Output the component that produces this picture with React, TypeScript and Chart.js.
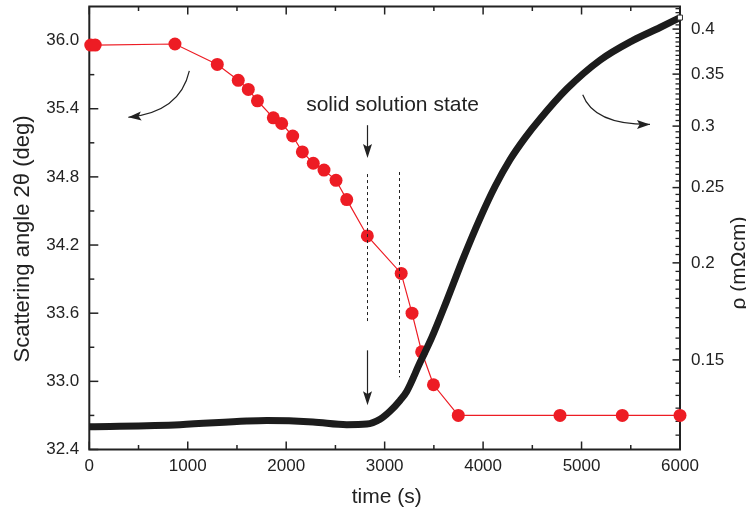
import { useEffect, useRef } from "react";
import { Chart, registerables } from "chart.js";

Chart.register(...registerables);

// ---------- data ----------
// Scattering angle 2θ (deg) vs time (s)  — red series, left axis
const angleTime = [15, 60, 870, 1300, 1513, 1615, 1708, 1869, 1954, 2066, 2164, 2275, 2384, 2506, 2615, 2824, 3168, 3278, 3376, 3496, 3748, 4781, 5414, 6000];
const angleValue = [35.96, 35.96, 35.97, 35.79, 35.65, 35.57, 35.47, 35.32, 35.27, 35.16, 35.02, 34.92, 34.86, 34.77, 34.6, 34.28, 33.95, 33.6, 33.26, 32.97, 32.7, 32.7, 32.7, 32.7];

// Resistivity ρ (mΩcm) vs time (s) — black series, right (log) axis
const rhoTime = [0, 921, 1599, 1802, 2272, 2615, 2818, 2953, 3054, 3156, 3224, 3359, 3478, 3630, 3799, 3969, 4121, 4273, 4426, 4578, 4849, 5187, 5523, 5797, 6000];
const rhoValue = [0.123, 0.1238, 0.1251, 0.1253, 0.1248, 0.1238, 0.124, 0.1258, 0.1288, 0.133, 0.1366, 0.1488, 0.1602, 0.1787, 0.2028, 0.2282, 0.2508, 0.2715, 0.2897, 0.3064, 0.3348, 0.3647, 0.3868, 0.4019, 0.4139];

// tick values
const timeTicks = [0, 1000, 2000, 3000, 4000, 5000, 6000];
const timeMinorTicks = [500, 1500, 2500, 3500, 4500, 5500];
const angleTicks = [32.4, 33.0, 33.6, 34.2, 34.8, 35.4, 36.0];
const angleMinorTicks = [32.7, 33.3, 33.9, 34.5, 35.1, 35.7];
const rhoTicks = [0.15, 0.2, 0.25, 0.3, 0.35, 0.4];
const rhoMinorTicks = [0.12, 0.125, 0.13, 0.135, 0.14, 0.145, 0.155, 0.16, 0.165, 0.17, 0.175, 0.18, 0.185, 0.19, 0.195, 0.205, 0.21, 0.215, 0.22, 0.225, 0.23, 0.235, 0.24, 0.245, 0.255, 0.26, 0.265, 0.27, 0.275, 0.28, 0.285, 0.29, 0.295, 0.305, 0.31, 0.315, 0.32, 0.325, 0.33, 0.335, 0.34, 0.345, 0.355, 0.36, 0.365, 0.37, 0.375, 0.38, 0.385, 0.39, 0.395, 0.405, 0.41, 0.415, 0.42, 0.425];

// axis ranges
const timeRange = [0, 6000];
const angleRange = [32.4, 36.3];
const rhoRange = [0.115, 0.4277];

// annotation anchors, in data units (time, angle)
const labelText = "solid solution state";
const labelAnchor = [3080, 35.43];
const straightArrows = [
  [2824, 35.255, 2824, 34.966],
  [2824, 33.273, 2824, 32.79],
];
const dashedLines = [
  [2824, 34.825, 2824, 33.518],
  [3146, 34.843, 3146, 33.036],
];
// curved arrows: start, control, end (tip)
const curvedArrows = [
  [1016, 35.734, 921, 35.37, 396, 35.325],
  [5012, 35.523, 5126, 35.258, 5695, 35.262],
];

const INK = "#222222";
const RED = "#ed1c24";
const FONT = "'Liberation Sans', Arial, Helvetica, sans-serif";

function arrowHead(ctx: CanvasRenderingContext2D, tx: number, ty: number, fx: number, fy: number, len: number, half: number) {
  const ang = Math.atan2(ty - fy, tx - fx);
  ctx.save();
  ctx.translate(tx, ty);
  ctx.rotate(ang);
  ctx.beginPath();
  ctx.moveTo(0, 0);
  ctx.lineTo(-len, -half);
  ctx.lineTo(-len * 0.8, 0);
  ctx.lineTo(-len, half);
  ctx.closePath();
  ctx.fill();
  ctx.restore();
}

const decorPlugin = {
  id: "decor",
  beforeDatasetsDraw(chart: any) {
    const { ctx, chartArea: a, scales } = chart;
    const sx = scales.x, sy = scales.y, sr = scales.y1;
    ctx.save();
    ctx.strokeStyle = INK;
    ctx.lineWidth = 1.5;
    const seg = (x0: number, y0: number, x1: number, y1: number) => {
      ctx.beginPath();
      ctx.moveTo(x0, y0);
      ctx.lineTo(x1, y1);
      ctx.stroke();
    };
    for (const v of timeTicks) {
      const p = sx.getPixelForValue(v);
      seg(p, a.bottom, p, a.bottom - 8);
      seg(p, a.top, p, a.top + 8);
    }
    for (const v of timeMinorTicks) {
      const p = sx.getPixelForValue(v);
      seg(p, a.bottom, p, a.bottom - 4.5);
      seg(p, a.top, p, a.top + 4.5);
    }
    for (const v of angleTicks) {
      const p = sy.getPixelForValue(v);
      seg(a.left, p, a.left + 9, p);
    }
    for (const v of angleMinorTicks) {
      const p = sy.getPixelForValue(v);
      seg(a.left, p, a.left + 5, p);
    }
    for (const v of rhoTicks) {
      const p = sr.getPixelForValue(v);
      seg(a.right, p, a.right - 7.5, p);
    }
    ctx.lineWidth = 1.3;
    for (const v of rhoMinorTicks) {
      const p = sr.getPixelForValue(v);
      seg(a.right, p, a.right - 4.5, p);
    }
    ctx.lineWidth = 2;
    ctx.strokeRect(a.left, a.top, a.right - a.left, a.bottom - a.top);
    ctx.restore();
  },
  afterDraw(chart: any) {
    const { ctx, chartArea: a, scales } = chart;
    const sx = scales.x, sy = scales.y;
    const X = (t: number) => sx.getPixelForValue(t);
    const Y = (v: number) => sy.getPixelForValue(v);
    ctx.save();
    ctx.fillStyle = INK;
    ctx.strokeStyle = INK;

    // axis titles
    ctx.font = `22px ${FONT}`;
    ctx.textAlign = "center";
    ctx.textBaseline = "middle";
    ctx.save();
    ctx.translate(23, 239);
    ctx.rotate(-Math.PI / 2);
    ctx.fillText("Scattering angle 2θ (deg)", 0, 0);
    ctx.restore();

    ctx.font = `21px ${FONT}`;
    ctx.save();
    ctx.translate(739, 263);
    ctx.rotate(-Math.PI / 2);
    ctx.fillText("ρ (mΩcm)", 0, 0);
    ctx.restore();

    ctx.fillText("time (s)", (a.left + a.right) / 2 + 2, 497);

    // annotation text
    ctx.font = `21px ${FONT}`;
    ctx.fillText(labelText, X(labelAnchor[0]), Y(labelAnchor[1]));

    // dashed lines
    ctx.lineWidth = 1;
    ctx.setLineDash([3, 3]);
    for (const d of dashedLines) {
      ctx.beginPath();
      ctx.moveTo(Math.round(X(d[0])) + 0.5, Y(d[1]));
      ctx.lineTo(Math.round(X(d[2])) + 0.5, Y(d[3]));
      ctx.stroke();
    }
    ctx.setLineDash([]);

    // straight arrows
    ctx.lineWidth = 1.2;
    for (const s of straightArrows) {
      const x0 = Math.round(X(s[0])) + 0.5, y0 = Y(s[1]);
      const x1 = Math.round(X(s[2])) + 0.5, y1 = Y(s[3]);
      ctx.beginPath();
      ctx.moveTo(x0, y0);
      ctx.lineTo(x1, y1 - 6);
      ctx.stroke();
      arrowHead(ctx, x1, y1, x0, y0, 14, 4.5);
    }

    // curved arrows
    for (const c of curvedArrows) {
      const x0 = X(c[0]), y0 = Y(c[1]);
      const cx = X(c[2]), cy = Y(c[3]);
      const x1 = X(c[4]), y1 = Y(c[5]);
      ctx.beginPath();
      ctx.moveTo(x0, y0);
      ctx.quadraticCurveTo(cx, cy, x1, y1);
      ctx.stroke();
      arrowHead(ctx, x1, y1, cx, cy, 13, 4.5);
    }
    ctx.restore();
  },
};

function fitVertical(width: number) {
  return (s: any) => {
    s.width = width;
    s.paddingTop = 0;
    s.paddingBottom = 0;
  };
}

export default function App() {
  const ref = useRef<HTMLCanvasElement | null>(null);

  useEffect(() => {
    const canvas = ref.current;
    if (!canvas) return;
    const tickFont = { family: FONT, size: 17 };
    const lastRho = rhoTime.length - 1;
    const chart = new Chart(canvas, {
      type: "line",
      data: {
        datasets: [
          {
            label: "rho",
            data: rhoTime.map((t, i) => ({ x: t, y: rhoValue[i] })),
            yAxisID: "y1",
            borderColor: "#1c1c1c",
            borderWidth: 7,
            cubicInterpolationMode: "monotone",
            pointStyle: "rect",
            pointRadius: (c: any) => (c.dataIndex === lastRho ? 3.5 : 0),
            pointBackgroundColor: "#ffffff",
            pointBorderColor: "#333333",
            pointBorderWidth: 1,
            clip: false as any,
          },
          {
            label: "angle",
            data: angleTime.map((t, i) => ({ x: t, y: angleValue[i] })),
            yAxisID: "y",
            borderColor: RED,
            borderWidth: 1.2,
            pointRadius: 6.5,
            pointBackgroundColor: RED,
            pointBorderColor: RED,
            pointBorderWidth: 0,
            tension: 0,
            clip: false as any,
          },
        ],
      },
      options: {
        responsive: false,
        animation: false,
        events: [],
        layout: { padding: { top: 4, left: 0, right: 0, bottom: 0 } },
        plugins: { legend: { display: false }, tooltip: { enabled: false } },
        scales: {
          x: {
            type: "linear",
            position: "bottom",
            min: timeRange[0],
            max: timeRange[1],
            afterBuildTicks: (s: any) => {
              s.ticks = timeTicks.map((v) => ({ value: v }));
            },
            afterFit: (s: any) => {
              s.height = 67.5;
              s.paddingLeft = 0;
              s.paddingRight = 0;
            },
            grid: { display: false, drawTicks: false },
            border: { display: false },
            ticks: {
              padding: 7,
              font: tickFont,
              color: INK,
              maxRotation: 0,
              autoSkip: false,
              callback: (v: any) => String(v),
            },
          },
          y: {
            type: "linear",
            position: "left",
            min: angleRange[0],
            max: angleRange[1],
            afterBuildTicks: (s: any) => {
              s.ticks = angleTicks.map((v) => ({ value: v }));
            },
            afterFit: fitVertical(89.3),
            grid: { display: false, drawTicks: false },
            border: { display: false },
            ticks: {
              padding: 10,
              font: tickFont,
              color: INK,
              autoSkip: false,
              callback: (v: any) => Number(v).toFixed(1),
            },
          },
          y1: {
            type: "logarithmic",
            position: "right",
            min: rhoRange[0],
            max: rhoRange[1],
            afterBuildTicks: (s: any) => {
              s.ticks = rhoTicks.map((v) => ({ value: v }));
            },
            afterFit: fitVertical(66),
            grid: { display: false, drawTicks: false },
            border: { display: false },
            ticks: {
              padding: 11,
              font: tickFont,
              color: INK,
              autoSkip: false,
              callback: (v: any) => String(v),
            },
          },
        },
      } as any,
      plugins: [decorPlugin],
    });
    return () => chart.destroy();
  }, []);

  return (
    <div style={{ position: "fixed", left: 0, top: 0, width: 746, height: 517, background: "#fff" }}>
      <canvas ref={ref} width={746} height={517} style={{ display: "block", width: 746, height: 517 }} />
    </div>
  );
}
